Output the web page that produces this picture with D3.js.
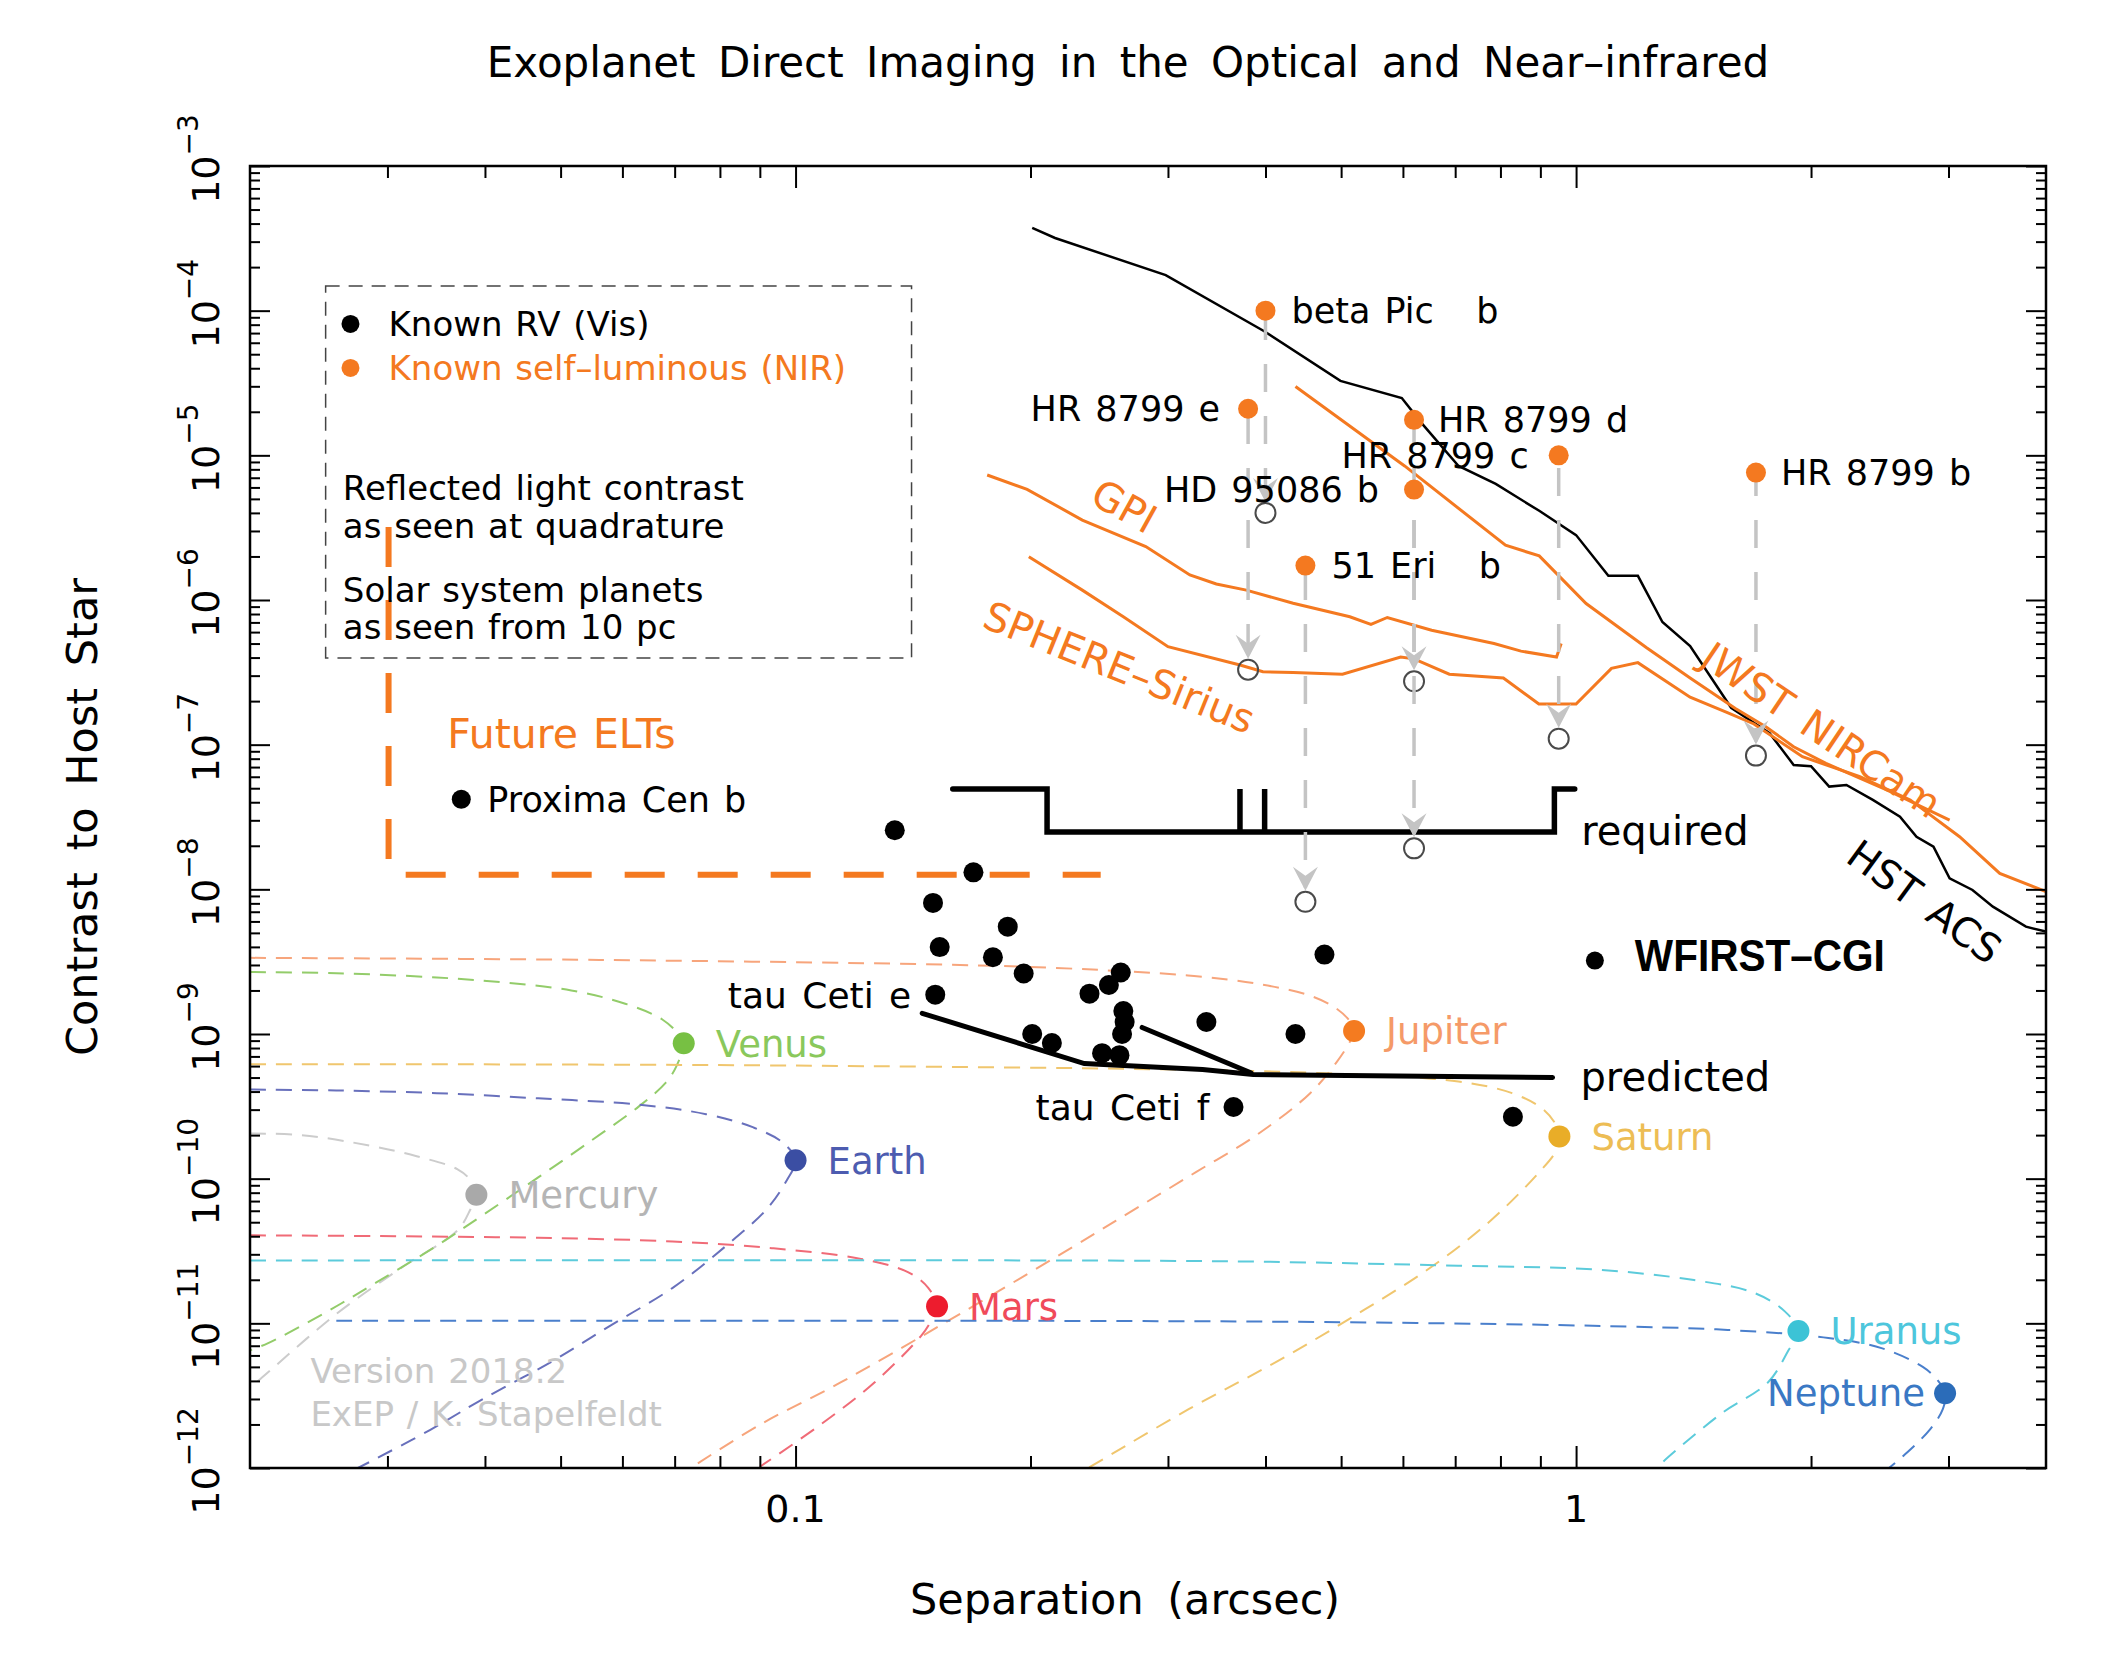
<!DOCTYPE html>
<html>
<head>
<meta charset="utf-8">
<script src="https://cdn.jsdelivr.net/npm/d3@7"></script>
<style>
  body { margin: 0; background: #fff; }
  text { font-family: "DejaVu Sans", sans-serif; white-space: pre; }
</style>
</head>
<body>
<div id="chart"></div>
<script>
// ---- data: [separation (arcsec), contrast] ----
const hstCurve = [[0.201,3.73e-4],[0.215,3.18e-4],[0.298,1.76e-4],[0.398,7.24e-5],[0.499,3.27e-5],[0.598,2.49e-5],[0.634,1.67e-5],[0.707,8.44e-6],[0.789,6.34e-6],[0.898,4.12e-6],[1.00,2.81e-6],[1.10,1.47e-6],[1.20,1.47e-6],[1.29,7.05e-7],[1.40,4.81e-7],[1.58,1.8e-7],[1.77,1.20e-7],[1.90,7.24e-8],[2.00,7.09e-8],[2.11,5.13e-8],[2.22,5.27e-8],[2.40,4.15e-8],[2.60,3.18e-8],[2.73,2.31e-8],[2.87,1.97e-8],[3.01,1.19e-8],[3.22,9.9e-9],[3.42,7.59e-9],[3.77,5.52e-9],[4.0,5.1e-9]];
const jwstCurve = [[0.437,2.99e-5],[0.603,8.45e-6],[0.812,2.39e-6],[0.897,2.02e-6],[1.03,9.46e-7],[1.23,4.70e-7],[1.40,2.89e-7],[1.60,1.78e-7],[1.75,1.33e-7],[1.90,9.68e-8],[2.09,7.43e-8],[2.50,4.86e-8],[3.01,3.01e-8]];
const sphereCurve = [[0.199,1.99e-6],[0.233,1.17e-6],[0.263,7.66e-7],[0.300,4.76e-7],[0.371,3.55e-7],[0.397,3.19e-7],[0.434,3.16e-7],[0.502,3.07e-7],[0.596,4.04e-7],[0.620,3.92e-7],[0.688,3.07e-7],[0.807,2.89e-7],[0.896,1.91e-7],[1.00,1.91e-7],[1.11,3.37e-7],[1.20,3.69e-7],[1.40,2.13e-7],[1.56,1.67e-7],[1.69,1.39e-7],[1.95,8.26e-8],[2.31,6.01e-8],[2.68,4.15e-8],[3.10,2.31e-8],[3.49,1.29e-8],[4.0,9.63e-9]];
const gpiCurve = [[0.176,7.31e-6],[0.198,5.82e-6],[0.233,3.57e-6],[0.281,2.34e-6],[0.320,1.49e-6],[0.346,1.29e-6],[0.378,1.17e-6],[0.434,9.49e-7],[0.513,7.66e-7],[0.546,6.78e-7],[0.573,7.57e-7],[0.653,6.18e-7],[0.785,5.0e-7],[0.850,4.43e-7],[0.944,4.04e-7],[0.957,5.0e-7]];

const requiredCurve = [[0.159,4.94e-8],[0.21,4.94e-8],[0.21,2.49e-8],[0.371,2.49e-8],[0.371,4.94e-8],[0.371,2.49e-8],[0.399,2.49e-8],[0.399,4.94e-8],[0.399,2.49e-8],[0.938,2.49e-8],[0.938,4.94e-8],[0.996,4.94e-8]];
const predictedCurve = [[0.1453,1.39e-9],[0.2344,6.25e-10],[0.3323,5.68e-10],[0.3858,5.24e-10],[0.933,5.01e-10]];
const predictedCurve2 = [[0.278,1.11e-9],[0.383,5.4e-10]];
const eltCurve = [[0.0301,3.2e-6],[0.0301,1.26e-8],[0.246,1.26e-8]];

// known RV planets (reflected light, visible)
const rvSep = [0.134,0.169,0.150,0.187,0.153,0.179,0.196,0.151,0.261,0.252,0.238,0.263,0.264,0.262,0.201,0.213,0.247,0.260,0.336,0.437,0.476,0.364,0.83];
const rvCon = [2.56e-8,1.31e-8,8.06e-9,5.52e-9,3.99e-9,3.39e-9,2.62e-9,1.87e-9,2.66e-9,2.18e-9,1.90e-9,1.44e-9,1.21e-9,1.00e-9,1.00e-9,8.67e-10,7.37e-10,7.14e-10,1.21e-9,1.00e-9,3.54e-9,3.13e-10,2.68e-10];
const rvNamed = ['tau Ceti e','tau Ceti f'];
const rvNamedIdx = [7, 21];
const proxima = ['Proxima Cen b', 0.0373, 4.2e-8];

// known self-luminous planets (NIR) and their reflected-light contrast
const selfNames = ['beta Pic   b','HR 8799 e','HR 8799 d','HR 8799 c','HD 95086 b','51 Eri   b','HR 8799 b'];
const selfSep = [0.40,0.38,0.62,0.95,0.62,0.45,1.70];
const selfCon = [1.0e-4,2.1e-5,1.76e-5,1.0e-5,5.8e-6,1.73e-6,7.6e-6];
const reflCon = [4.0e-6,3.3e-7,2.74e-7,1.1e-7,1.92e-8,8.2e-9,8.4e-8];

// solar system planets at 10 pc
const planetNames = ['Mercury','Venus','Earth','Mars','Jupiter','Saturn','Uranus','Neptune'];
const planetSep = [0.039,0.0719,0.1,0.1518,0.5195,0.952,1.927,2.97];
const planetCon = [7.75e-11,8.64e-10,1.34e-10,1.31e-11,1.05e-9,1.96e-10,8.85e-12,3.29e-12];
const mercuryCurve = [[0.02,2.05e-10],[0.0233,2.0e-10],[0.0285,1.69e-10],[0.0327,1.43e-10],[0.0369,1.16e-10],[0.0383,9.8e-11],[0.039,7.75e-11],[0.0383,6.1e-11],[0.0369,4.4e-11],[0.0314,2.46e-11],[0.0258,1.16e-11],[0.0207,4.2e-12],[0.0200,3.6e-12]];
const venusCurve = [[0.02,2.68e-9],[0.0258,2.63e-9],[0.0347,2.46e-9],[0.0423,2.27e-9],[0.0516,2.0e-9],[0.0605,1.62e-9],[0.0675,1.26e-9],[0.0710,9.8e-10],[0.0719,8.64e-10],[0.0703,5.93e-10],[0.0682,4.61e-10],[0.0630,3.16e-10],[0.0548,1.84e-10],[0.0468,1.02e-10],[0.0399,5.68e-11],[0.0347,3.44e-11],[0.0290,1.91e-11],[0.0248,1.16e-11],[0.0211,7.3e-12],[0.02,6.5e-12]];
const earthCurve = [[0.02,4.13e-10],[0.0258,4.07e-10],[0.0347,3.9e-10],[0.0468,3.59e-10],[0.063,3.25e-10],[0.0768,2.79e-10],[0.0883,2.26e-10],[0.0965,1.76e-10],[0.1,1.34e-10],[0.0975,9.8e-11],[0.0919,6.18e-11],[0.0815,3.44e-11],[0.0696,1.76e-11],[0.0582,9.8e-12],[0.0487,5.44e-12],[0.0399,3.03e-12],[0.034,1.83e-12],[0.029,1.16e-12],[0.0275,1.0e-12]];
const marsCurve = [[0.02,4.06e-11],[0.0314,4.0e-11],[0.0468,3.9e-11],[0.0696,3.68e-11],[0.0937,3.3e-11],[0.1213,2.79e-11],[0.1393,2.26e-11],[0.1479,1.76e-11],[0.1518,1.31e-11],[0.1494,1.06e-11],[0.145,8.27e-12],[0.1262,3.9e-12],[0.1076,1.99e-12],[0.09,1.02e-12]];
const jupiterCurve = [[0.02,3.36e-9],[0.0561,3.25e-9],[0.18,2.96e-9],[0.2585,2.73e-9],[0.324,2.52e-9],[0.3895,2.23e-9],[0.4564,1.84e-9],[0.494,1.49e-9],[0.514,1.21e-9],[0.5195,1.05e-9],[0.514,9.0e-10],[0.494,6.45e-10],[0.4564,3.9e-10],[0.3895,2.0e-10],[0.3258,1.11e-10],[0.2725,6.18e-11],[0.2279,3.44e-11],[0.1539,9.8e-12],[0.1142,3.9e-12],[0.09,1.99e-12],[0.0738,1.02e-12]];
const saturnCurve = [[0.02,6.18e-10],[0.1,6.05e-10],[0.475,5.36e-10],[0.7067,4.69e-10],[0.828,3.9e-10],[0.9055,3.04e-10],[0.9421,2.36e-10],[0.952,1.96e-10],[0.942,1.55e-10],[0.897,1.11e-10],[0.78,5.22e-11],[0.653,2.46e-11],[0.5246,1.16e-11],[0.4135,5.44e-12],[0.3193,2.56e-12],[0.2371,1.0e-12]];
const uranusCurve = [[0.02,2.72e-11],[0.2147,2.72e-11],[0.3895,2.67e-11],[0.7067,2.5e-11],[1.051,2.36e-11],[1.416,1.99e-11],[1.693,1.62e-11],[1.851,1.21e-11],[1.927,8.85e-12],[1.869,6.44e-12],[1.761,3.9e-12],[1.532,2.36e-12],[1.282,1.06e-12],[1.27,1.0e-12]];
const neptuneCurve = [[0.0258,1.04e-11],[0.2147,1.04e-11],[0.475,1.02e-11],[1.051,9.62e-12],[1.564,9.0e-12],[2.105,7.93e-12],[2.468,6.71e-12],[2.781,5.0e-12],[2.904,4.06e-12],[2.97,3.29e-12],[2.951,2.56e-12],[2.836,1.83e-12],[2.62,1.2e-12],[2.517,1.0e-12]];
const planetCurves = [mercuryCurve, venusCurve, earthCurve, marsCurve, jupiterCurve, saturnCurve, uranusCurve, neptuneCurve];

// axis ticks
const xMajor = [0.1, 1];
const xLabels = ['0.1', '1'];
const yExponents = [-12,-11,-10,-9,-8,-7,-6,-5,-4,-3];

// ---- styles ----
const ORANGE = '#f47920';
const planetDot  = ['#a9a9a9','#77c043','#3b4ea3','#ed1c2e','#f47b20','#e9ad28','#3cc3d6','#2b6cb9'];
const planetLine = ['#cccccc','#93cc6a','#6870bc','#f06b77','#f7a57c','#f0c66e','#5ccbdb','#4a7fcc'];
const planetText = ['#b5b5b5','#8ac85c','#4d5cb0','#f04a5a','#f59a68','#edbd55','#4dc6dc','#3a78c4'];

// ---- layout ----
const W = 2110, H = 1655;
const margin = {top: 166, right: 64, bottom: 187, left: 250};
const plotW = W - margin.left - margin.right;
const plotH = H - margin.top - margin.bottom;

const svg = d3.select('#chart').append('svg')
    .attr('width', W)
    .attr('height', H);

const x = d3.scaleLog().domain([0.02, 4]).range([margin.left, margin.left + plotW]);
const y = d3.scaleLog().domain([1e-12, 1e-3]).range([margin.top + plotH, margin.top]);

const line = d3.line().x(d => x(d[0])).y(d => y(d[1]));
const smooth = d3.line().x(d => x(d[0])).y(d => y(d[1])).curve(d3.curveCatmullRom.alpha(0.5));

svg.append('clipPath').attr('id', 'plotclip')
  .append('rect')
    .attr('x', margin.left).attr('y', margin.top)
    .attr('width', plotW).attr('height', plotH);

const plot = svg.append('g').attr('clip-path', 'url(#plotclip)');

// ---- ticks (inward, on all four sides) ----
const xMinor = [];
[0.01, 0.1, 1].forEach(dec => {
    for (let m = 2; m <= 9; m++) {
        const v = m * dec;
        if (v > 0.02 + 1e-9 && v < 4 - 1e-9) xMinor.push(v);
    }
});
const yMinor = [];
for (let e = -12; e <= -4; e++) {
    for (let m = 2; m <= 9; m++) yMinor.push(m * Math.pow(10, e));
}
const yMajor = yExponents.map(e => Math.pow(10, e));

function ticks(axisFn, scale, values, size, tx, ty) {
    svg.append('g')
        .attr('transform', `translate(${tx},${ty})`)
        .call(axisFn(scale).tickValues(values).tickSize(-size).tickFormat(''))
        .call(g => g.select('.domain').remove())
        .call(g => g.selectAll('line').attr('stroke', '#000').attr('stroke-width', 2));
}
const bottomY = margin.top + plotH, rightX = margin.left + plotW;
ticks(d3.axisBottom, x, xMinor, 12, 0, bottomY);
ticks(d3.axisBottom, x, xMajor, 22, 0, bottomY);
ticks(d3.axisTop, x, xMinor, 12, 0, margin.top);
ticks(d3.axisTop, x, xMajor, 22, 0, margin.top);
ticks(d3.axisLeft, y, yMinor, 10, margin.left, 0);
ticks(d3.axisLeft, y, yMajor, 20, margin.left, 0);
ticks(d3.axisRight, y, yMinor, 10, rightX, 0);
ticks(d3.axisRight, y, yMajor, 20, rightX, 0);

// tick labels
svg.selectAll('.xlab')
    .data(xMajor)
    .enter()
    .append('text')
    .attr('x', d => x(d))
    .attr('y', 1522)
    .attr('text-anchor', 'middle')
    .style('font-size', '38px')
    .text((d, i) => xLabels[i]);

const ylab = svg.selectAll('.ylab')
    .data(yExponents)
    .enter()
    .append('text')
    .attr('transform', d => `translate(219,${y(Math.pow(10, d)) - 7}) rotate(-90)`)
    .attr('text-anchor', 'middle')
    .style('font-size', '38px');
ylab.append('tspan').text('10');
ylab.append('tspan').attr('dy', -21).style('font-size', '28px').text(d => '\u2212' + Math.abs(d));

// ---- solar system planets ----
plot.selectAll('.pcurve')
    .data(planetCurves)
    .enter()
    .append('path')
    .attr('d', smooth)
    .attr('fill', 'none')
    .attr('stroke', (d, i) => planetLine[i])
    .attr('stroke-width', 2)
    .attr('stroke-dasharray', '16,10');

// ---- instrument curves ----
plot.append('path').attr('d', line(hstCurve))
    .attr('fill', 'none').attr('stroke', '#000').attr('stroke-width', 2.5);
[jwstCurve, sphereCurve, gpiCurve].forEach(c => {
    plot.append('path').attr('d', line(c))
        .attr('fill', 'none').attr('stroke', ORANGE).attr('stroke-width', 3);
});

// WFIRST-CGI required / predicted
plot.append('path').attr('d', line(requiredCurve))
    .attr('fill', 'none').attr('stroke', '#000').attr('stroke-width', 5.5)
    .attr('stroke-linecap', 'round').attr('stroke-linejoin', 'miter');
[predictedCurve, predictedCurve2].forEach(c => {
    plot.append('path').attr('d', line(c))
        .attr('fill', 'none').attr('stroke', '#000').attr('stroke-width', 5)
        .attr('stroke-linecap', 'round');
});

// Future ELTs
plot.append('path').attr('d', line(eltCurve))
    .attr('fill', 'none').attr('stroke', ORANGE).attr('stroke-width', 6)
    .attr('stroke-dasharray', '40,33');

// ---- legend box ----
const box = [[0.025, 1.48e-4], [0.1408, 3.97e-7]];
svg.append('rect')
    .attr('x', x(box[0][0])).attr('y', y(box[0][1]))
    .attr('width', x(box[1][0]) - x(box[0][0]))
    .attr('height', y(box[1][1]) - y(box[0][1]))
    .attr('fill', 'none').attr('stroke', '#444').attr('stroke-width', 1.5)
    .attr('stroke-dasharray', '14,9');

// ---- reflected-light arrows for self-luminous planets ----
const DASH = 52, circR = 10;
const arrows = plot.selectAll('.arrow')
    .data(selfSep)
    .enter()
    .append('g');
arrows.append('line')
    .attr('x1', d => x(d)).attr('x2', d => x(d))
    .attr('y1', (d, i) => y(selfCon[i]))
    .attr('y2', (d, i) => y(reflCon[i]) - circR - 4)
    .attr('stroke', '#c4c4c4').attr('stroke-width', 3.5)
    .attr('stroke-dasharray', '28,24')
    .attr('stroke-dashoffset', (d, i) => y(selfCon[i]) % DASH);
arrows.append('path')
    .attr('d', 'M0,0 L-12.5,-24 L0,-15 L12.5,-24 Z')
    .attr('transform', (d, i) => `translate(${x(d)},${y(reflCon[i]) - circR - 1})`)
    .attr('fill', '#c4c4c4');
arrows.append('circle')
    .attr('cx', d => x(d)).attr('cy', (d, i) => y(reflCon[i]))
    .attr('r', circR)
    .attr('fill', 'none').attr('stroke', '#4a4a4a').attr('stroke-width', 2);

// ---- dots ----
svg.selectAll('.rv')
    .data(rvSep)
    .enter()
    .append('circle')
    .attr('cx', d => x(d)).attr('cy', (d, i) => y(rvCon[i]))
    .attr('r', 10).attr('fill', '#000');
svg.append('circle').attr('cx', x(proxima[1])).attr('cy', y(proxima[2])).attr('r', 9.5).attr('fill', '#000');

svg.selectAll('.self')
    .data(selfSep)
    .enter()
    .append('circle')
    .attr('cx', d => x(d)).attr('cy', (d, i) => y(selfCon[i]))
    .attr('r', 10).attr('fill', ORANGE);

svg.selectAll('.planet')
    .data(planetSep)
    .enter()
    .append('circle')
    .attr('cx', d => x(d)).attr('cy', (d, i) => y(planetCon[i]))
    .attr('r', 11).attr('fill', (d, i) => planetDot[i]);

// ---- labels ----
const planetSide = [1,1,1,1,1,1,1,-1];
svg.selectAll('.plabel')
    .data(planetNames)
    .enter()
    .append('text')
    .attr('x', (d, i) => x(planetSep[i]) + (planetSide[i] > 0 ? 32 : -20))
    .attr('y', (d, i) => y(planetCon[i]))
    .attr('dy', '0.36em')
    .attr('text-anchor', (d, i) => planetSide[i] > 0 ? 'start' : 'end')
    .style('font-size', '37px')
    .style('fill', (d, i) => planetText[i])
    .text(d => d);

const selfOffset = [26, -28, 24, -30, -35, 26, 25];
svg.selectAll('.slabel')
    .data(selfNames)
    .enter()
    .append('text')
    .attr('x', (d, i) => x(selfSep[i]) + selfOffset[i])
    .attr('y', (d, i) => y(selfCon[i]))
    .attr('dy', '0.36em')
    .attr('text-anchor', (d, i) => selfOffset[i] > 0 ? 'start' : 'end')
    .style('font-size', '35px')
    .style('word-spacing', '3px')
    .text(d => d);

svg.selectAll('.rvlabel')
    .data(rvNamed)
    .enter()
    .append('text')
    .attr('x', (d, i) => x(rvSep[rvNamedIdx[i]]) - 24)
    .attr('y', (d, i) => y(rvCon[rvNamedIdx[i]]))
    .attr('dy', '0.36em')
    .attr('text-anchor', 'end')
    .style('font-size', '36px')
    .style('word-spacing', '4px')
    .text(d => d);

svg.append('text')
    .attr('x', x(proxima[1]) + 26).attr('y', y(proxima[2])).attr('dy', '0.36em')
    .style('font-size', '35px').style('word-spacing', '3px').text(proxima[0]);

// WFIRST-CGI marker and curve labels
const cgi = [1.057, 3.22e-9];
svg.append('circle').attr('cx', x(cgi[0])).attr('cy', y(cgi[1])).attr('r', 9).attr('fill', '#000');
svg.append('text')
    .attr('x', x(cgi[0]) + 40).attr('y', y(cgi[1]) - 5).attr('dy', '0.36em')
    .attr('textLength', 250).attr('lengthAdjust', 'spacingAndGlyphs')
    .style('font-family', '"Liberation Sans", Arial, sans-serif')
    .style('font-weight', 'bold').style('font-size', '44px')
    .text('WFIRST\u2013CGI');

const annotations = [
    {t: 'required',  s: 1.015, c: 2.53e-8, size: 40, color: '#000'},
    {t: 'predicted', s: 1.013, c: 5.04e-10, size: 40, color: '#000'},
    {t: 'Future ELTs', s: 0.0358, c: 1.2e-7, size: 41, color: ORANGE},
    {t: 'Version 2018.2', s: 0.0239, c: 4.7e-12, size: 34, color: '#c8c8c8'},
    {t: 'ExEP / K. Stapelfeldt', s: 0.0239, c: 2.36e-12, size: 34, color: '#c8c8c8'},
    {t: 'Known RV (Vis)', s: 0.0301, c: 8.09e-5, size: 34, color: '#000'},
    {t: 'Known self\u2013luminous (NIR)', s: 0.0301, c: 4.02e-5, size: 34, color: ORANGE},
    {t: 'Reflected light contrast', s: 0.0263, c: 5.95e-6, size: 34, color: '#000'},
    {t: 'as seen at quadrature', s: 0.0263, c: 3.26e-6, size: 34, color: '#000'},
    {t: 'Solar system planets', s: 0.0263, c: 1.17e-6, size: 34, color: '#000'},
    {t: 'as seen from 10 pc', s: 0.0263, c: 6.48e-7, size: 34, color: '#000'}
];
svg.selectAll('.ann')
    .data(annotations)
    .enter()
    .append('text')
    .attr('x', d => x(d.s)).attr('y', d => y(d.c)).attr('dy', '0.36em')
    .style('font-size', d => d.size + 'px')
    .style('word-spacing', '2px')
    .style('fill', d => d.color)
    .text(d => d.t);

// legend markers
const legendDots = [[0.0269, 8.09e-5, '#000'], [0.0269, 4.02e-5, ORANGE]];
svg.selectAll('.ldot')
    .data(legendDots)
    .enter()
    .append('circle')
    .attr('cx', d => x(d[0])).attr('cy', d => y(d[1]))
    .attr('r', 9).attr('fill', d => d[2]);

// rotated instrument labels
const curveLabels = [
    {t: 'GPI', s: 0.2638, c: 4.47e-6, rot: 29, color: ORANGE},
    {t: 'SPHERE\u2013Sirius', s: 0.260, c: 3.44e-7, rot: 22, color: ORANGE},
    {t: 'JWST NIRCam', s: 2.063, c: 1.27e-7, rot: 34, color: ORANGE},
    {t: 'HST ACS', s: 2.796, c: 8.22e-9, rot: 36, color: '#000'}
];
svg.selectAll('.clabel')
    .data(curveLabels)
    .enter()
    .append('text')
    .attr('transform', d => `translate(${x(d.s)},${y(d.c)}) rotate(${d.rot})`)
    .attr('text-anchor', 'middle')
    .attr('dy', '0.36em')
    .style('font-size', '40px')
    .style('word-spacing', '6px')
    .style('fill', d => d.color)
    .text(d => d.t);

// ---- frame, title and axis titles ----
svg.append('rect')
    .attr('x', margin.left).attr('y', margin.top)
    .attr('width', plotW).attr('height', plotH)
    .attr('fill', 'none').attr('stroke', '#000').attr('stroke-width', 2.5);

svg.append('text')
    .attr('x', 1128).attr('y', 77)
    .attr('text-anchor', 'middle')
    .style('font-size', '42px')
    .style('word-spacing', '9px')
    .text('Exoplanet Direct Imaging in the Optical and Near\u2013infrared');

svg.append('text')
    .attr('x', 1125).attr('y', 1614)
    .attr('text-anchor', 'middle')
    .style('font-size', '43px')
    .style('word-spacing', '10px')
    .text('Separation (arcsec)');

svg.append('text')
    .attr('transform', `translate(97,${margin.top + plotH / 2}) rotate(-90)`)
    .attr('text-anchor', 'middle')
    .style('font-size', '43px')
    .style('word-spacing', '8px')
    .text('Contrast to Host Star');
</script>
</body>
</html>
